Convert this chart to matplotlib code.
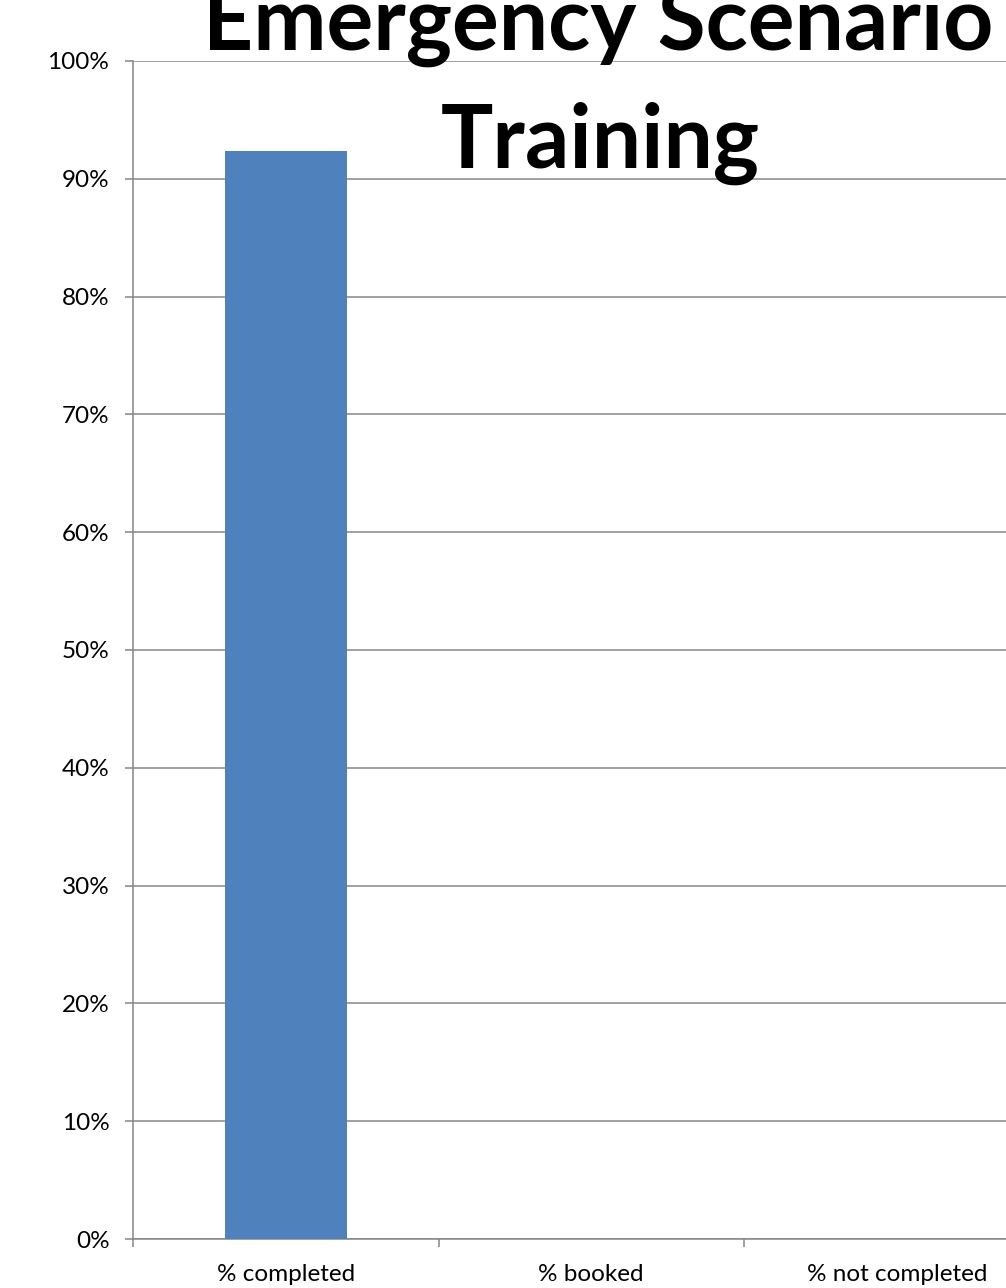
import matplotlib
matplotlib.use("Agg")
import matplotlib.pyplot as plt
from matplotlib.ticker import FuncFormatter, FixedLocator

categories = ["% completed", "% booked", "% not completed"]
values = [92.4, 0.0, 0.0]
yticks = [0, 10, 20, 30, 40, 50, 60, 70, 80, 90, 100]
title_lines = ["Emergency Scenario", "Training"]

plt.rcParams['font.family'] = ['Lato', 'DejaVu Sans']

W, H = 1006, 1288
fig = plt.figure(figsize=(W / 100, H / 100), dpi=100)
ax = fig.add_axes([133 / W, 49 / H, 916.5 / W, 1178 / H])

grid_c = "#868686"
x = list(range(len(categories)))
ax.bar(x, values, width=0.40, color="#4F81BD", zorder=3)

ax.set_xlim(-0.5, len(categories) - 0.5)
ax.set_ylim(0, 100)
ax.set_yticks(yticks)
ax.yaxis.set_major_formatter(FuncFormatter(lambda v, p: f"{int(v)}%"))
ax.yaxis.grid(True, color=grid_c, linewidth=1.1, zorder=0)
ax.set_axisbelow(True)

ax.xaxis.set_major_locator(FixedLocator([i - 0.5 for i in range(len(categories) + 1)]))
ax.xaxis.set_major_formatter(FuncFormatter(lambda v, p: ""))
ax.xaxis.set_minor_locator(FixedLocator(x))
ax.set_xticklabels(categories, minor=True)

ax.tick_params(axis="x", which="major", length=6, width=1.1, color=grid_c, direction="out")
ax.tick_params(axis="x", which="minor", length=0, pad=18, labelsize=17.5, labelcolor="black")
ax.tick_params(axis="y", which="major", length=6, width=1.1, color=grid_c, direction="out",
               pad=11, labelsize=17.5, labelcolor="black")

for s in ["top", "right"]:
    ax.spines[s].set_visible(False)
for s in ["left", "bottom"]:
    ax.spines[s].set_color(grid_c)
    ax.spines[s].set_linewidth(1.1)

fig.text(598 / W, 1 - 50 / H, title_lines[0], ha="center", va="baseline",
         fontsize=63, fontweight="bold", color="black")
fig.text(600 / W, 1 - 168 / H, title_lines[1], ha="center", va="baseline",
         fontsize=63, fontweight="bold", color="black")

fig.savefig("out.png", dpi=100)
